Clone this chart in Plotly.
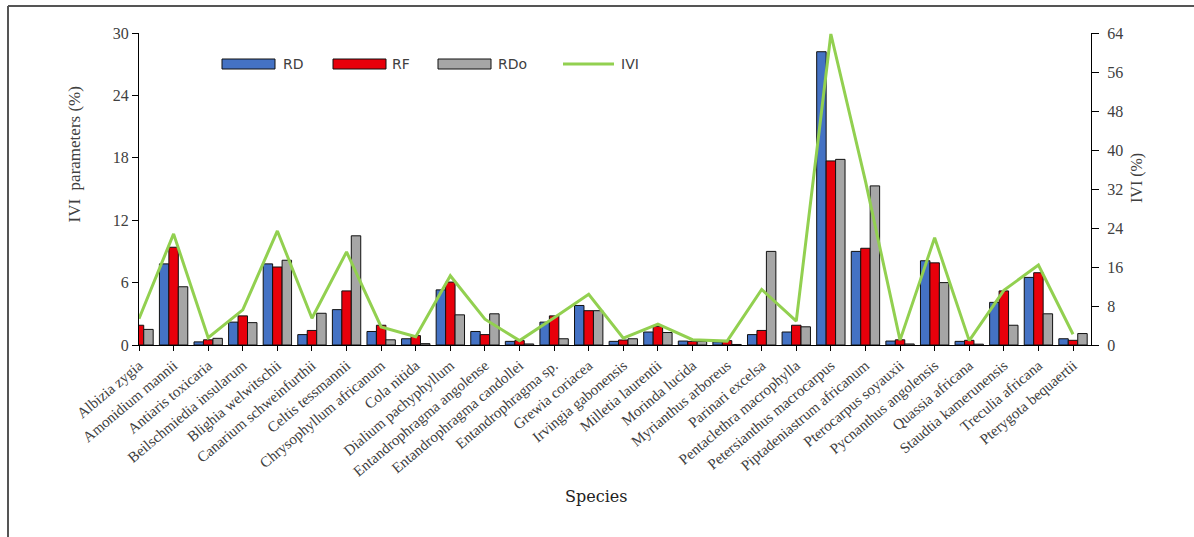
import plotly.graph_objects as go

species = ["Albizia zygia", "Amonidium mannii", "Antiaris toxicaria", "Beilschmiedia insularum",
           "Blighia welwitschii", "Canarium schweinfurthii", "Celtis tessmannii", "Chrysophyllum africanum",
           "Cola nitida", "Dialium pachyphyllum", "Entandrophragma angolense", "Entandrophragma candollei",
           "Entandrophragma sp.", "Grewia coriacea", "Irvingia gabonensis", "Milletia laurentii",
           "Morinda lucida", "Myrianthus arboreus", "Parinari excelsa", "Pentaclethra macrophylla",
           "Petersianthus macrocarpus", "Piptadeniastrum africanum", "Pterocarpus soyauxii",
           "Pycnanthus angolensis", "Quassia africana", "Staudtia kamerunensis", "Treculia africana",
           "Pterygota bequaertii"]

rd = [2.0, 7.8, 0.3, 2.2, 7.8, 1.0, 3.4, 1.3, 0.6, 5.3, 1.3, 0.35, 2.2, 3.8, 0.35, 1.25, 0.38, 0.3,
      1.0, 1.25, 28.2, 9.0, 0.38, 8.1, 0.35, 4.1, 6.5, 0.6]
rf = [1.9, 9.4, 0.5, 2.8, 7.5, 1.4, 5.2, 1.9, 0.9, 6.05, 1.0, 0.42, 2.8, 3.3, 0.48, 1.8, 0.35, 0.42,
      1.4, 1.9, 17.7, 9.3, 0.5, 7.9, 0.45, 5.2, 6.95, 0.45]
rdo = [1.5, 5.6, 0.64, 2.15, 8.15, 3.05, 10.5, 0.5, 0.13, 2.9, 3.0, 0.1, 0.6, 3.3, 0.6, 1.2, 0.35, 0.05,
       9.0, 1.75, 17.85, 15.3, 0.1, 6.0, 0.08, 1.9, 3.0, 1.1]
ivi = [5.4, 22.8, 1.5, 7.2, 23.4, 5.5, 19.1, 3.7, 1.7, 14.2, 5.3, 0.9, 5.6, 10.4, 1.4, 4.3, 1.1, 0.8,
       11.4, 4.9, 63.8, 33.6, 1.0, 22.0, 0.9, 11.2, 16.4, 2.2]

series_names = ["RD", "RF", "RDo", "IVI"]
bar_colors = ["#4472C4", "#E8000B", "#A6A6A6"]
line_color = "#92D050"

left_ticks = [0, 6, 12, 18, 24, 30]
right_ticks = [0, 8, 16, 24, 32, 40, 48, 56, 64]

serif = "Liberation Serif"
txt = "#404040"

# plot area in pixels (for converting decoration placement to paper units)
L, R, T, B = 139, 1091, 33, 345
def px(x):
    return (x - L) / (R - L)
def py(y):
    return (B - y) / (B - T)

fig = go.Figure()
for name, vals, col in zip(series_names[:3], [rd, rf, rdo], bar_colors):
    fig.add_trace(go.Bar(x=species, y=vals, name=name, showlegend=False,
                         marker=dict(color=col, line=dict(color="#111111", width=1))))
fig.add_trace(go.Scatter(x=species, y=ivi, name="IVI", yaxis="y2", mode="lines", showlegend=False,
                         line=dict(color=line_color, width=3)))

# legend drawn as decoration (wide swatches like the original)
shapes = []
annotations = []
sw_left = [222, 333, 438]
txt_left = [281, 390, 496, 619]
for i, x0 in enumerate(sw_left):
    shapes.append(dict(type="rect", xref="paper", yref="paper", x0=px(x0), x1=px(x0 + 53),
                       y0=py(69), y1=py(59), fillcolor=bar_colors[i],
                       line=dict(color="#111111", width=1)))
shapes.append(dict(type="line", xref="paper", yref="paper", x0=px(563), x1=px(614),
                   y0=py(64), y1=py(64), line=dict(color=line_color, width=3)))
for i, x0 in enumerate(txt_left):
    annotations.append(dict(text=series_names[i], xref="paper", yref="paper", x=px(x0), y=py(64),
                            xanchor="left", yanchor="middle", showarrow=False,
                            font=dict(family="DejaVu Sans", size=14, color=txt)))

annotations += [
    dict(text="IVI  parameters (%)", xref="paper", yref="paper", x=px(62), y=py(155),
         textangle=-90, showarrow=False, font=dict(family=serif, size=17, color=txt)),
    dict(text="IVI (%)", xref="paper", yref="paper", x=px(1148), y=py(178),
         textangle=-90, showarrow=False, font=dict(family=serif, size=16, color=txt)),
    dict(text="Species", xref="paper", yref="paper", x=px(596), y=py(508), showarrow=False,
         font=dict(family="DejaVu Serif", size=16, color="#222222")),
]
# outer frame (top and left edges visible in the original)
shapes.append(dict(type="line", xref="paper", yref="paper", x0=px(8), x1=px(1194), y0=py(6), y1=py(6),
                   line=dict(color="#555555", width=2), layer="below"))
shapes.append(dict(type="line", xref="paper", yref="paper", x0=px(8), x1=px(8), y0=py(6), y1=py(537),
                   line=dict(color="#555555", width=2), layer="below"))

fig.update_layout(
    template="none",
    width=1194, height=537,
    margin=dict(l=L, r=1194 - R, t=T, b=537 - B, autoexpand=False),
    paper_bgcolor="white", plot_bgcolor="white",
    barmode="group", bargap=0.18, bargroupgap=0,
    xaxis=dict(range=[0, 27.52], tickangle=-40, showline=True, linecolor="black", linewidth=1,
               ticks="outside", ticklen=5, tickcolor="black", showgrid=False, automargin=False,
               tickfont=dict(family=serif, size=15, color=txt), zeroline=False),
    yaxis=dict(range=[0, 30], tickvals=left_ticks, showline=True, linecolor="black", linewidth=1,
               ticks="outside", ticklen=6, tickcolor="black", showgrid=False, zeroline=False,
               automargin=False, tickfont=dict(family=serif, size=16, color=txt)),
    yaxis2=dict(range=[0, 64], tickvals=right_ticks, overlaying="y", side="right", showline=True,
                linecolor="black", linewidth=1, ticks="outside", ticklen=7, tickcolor="black",
                showgrid=False, zeroline=False, automargin=False, ticklabelstandoff=5,
                tickfont=dict(family=serif, size=16, color=txt)),
    annotations=annotations,
    shapes=shapes,
)

fig.write_html("out.html")
